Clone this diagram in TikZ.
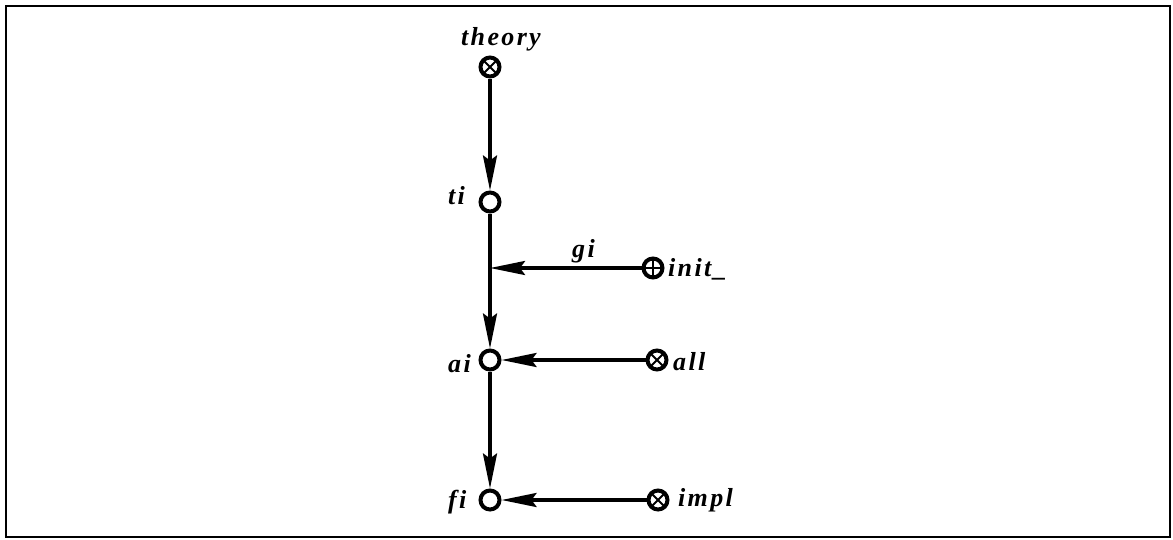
\documentclass[tikz,border=0pt]{standalone}
\usepackage{fontspec}
\setmainfont{Liberation Serif}[LetterSpace=9]
\usetikzlibrary{arrows.meta}
\begin{document}
\begin{tikzpicture}[x=1pt,y=-1pt,
  lbl/.style={font=\fontsize{26}{28}\selectfont\bfseries\itshape, inner sep=0pt},
  vtx/.style={circle, draw, line width=4pt, minimum size=19pt, inner sep=0pt, fill=white},
  otimesv/.style={vtx, path picture={\draw[line width=2pt] (path picture bounding box.south west)--(path picture bounding box.north east) (path picture bounding box.north west)--(path picture bounding box.south east);}},
  oplusv/.style={vtx, path picture={\draw[line width=2pt] (path picture bounding box.south)--(path picture bounding box.north) (path picture bounding box.west)--(path picture bounding box.east);}},
  edge/.style={line width=3.5pt, -{Stealth[length=35pt, width=14pt, inset=5pt]}},
  plain/.style={line width=3.5pt}]
\useasboundingbox (0,0) rectangle (1173,539);
\draw[line width=2pt] (6,6) rectangle (1170,537);
% vertices
\node[otimesv] (theory) at (490,67) {};
\node[vtx] (ti) at (490,202) {};
\coordinate (j) at (490,268);
\node[oplusv] (init) at (653,268) {};
\node[vtx] (ai) at (490,360) {};
\node[otimesv] (all) at (657,360) {};
\node[vtx] (fi) at (490,500) {};
\node[otimesv] (impl) at (658,500) {};
% labels
\node[lbl, anchor=base west] (ltheory) at (461,45) {theory};
\node[lbl, anchor=base west] (lti) at (448,204) {ti};
\node[lbl, anchor=base west] (lgi) at (572,257) {gi};
\node[lbl, anchor=base west] (linit) at (668,276) {init\_};
\node[lbl, anchor=base west] (lai) at (448,372) {ai};
\node[lbl, anchor=base west] (lall) at (673,370) {all};
\node[lbl, anchor=base west] (lfi) at (448,508) {fi};
\node[lbl, anchor=base west] (limpl) at (678,506) {impl};
% edges
\draw[edge] (theory) -- (ti);
\draw[plain] (ti) -- (j);
\draw[edge] (j) -- (ai);
\draw[edge] (init) -- (j);
\draw[edge] (all) -- (ai);
\draw[edge] (ai) -- (fi);
\draw[edge] (impl) -- (fi);
\end{tikzpicture}
\end{document}
